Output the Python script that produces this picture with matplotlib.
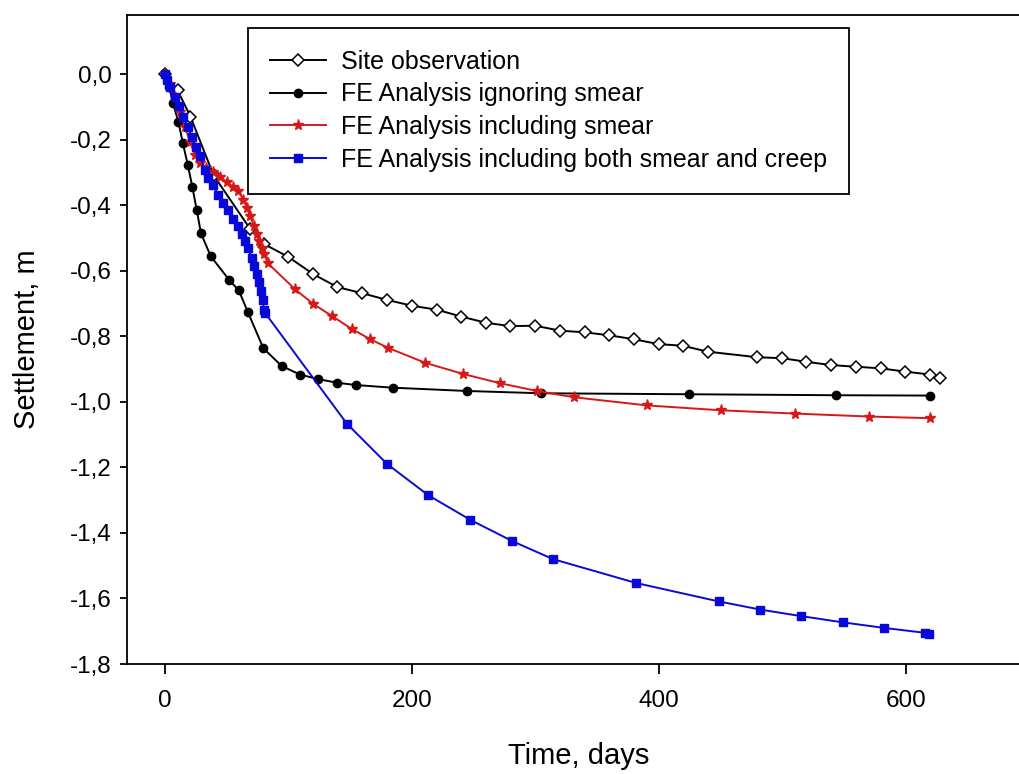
import matplotlib
matplotlib.use('Agg')
import matplotlib.pyplot as plt
from matplotlib.ticker import FuncFormatter

plt.rcParams['font.family'] = ['Liberation Sans', 'DejaVu Sans']

# Site observation
site_days = [0, 10.1, 20.6, 39.3, 68.8, 79.8, 99.8, 120.1, 139.5, 159.8, 179.5,
             199.8, 220.0, 239.7, 259.7, 279.4, 299.6, 319.8, 339.5, 359.3,
             379.2, 399.4, 419.0, 439.1, 479.1, 499.4, 519.0, 539.0, 559.1,
             579.4, 599.2, 619.4, 626.9]
site_settle = [0, -0.049, -0.130, -0.309, -0.472, -0.518, -0.558, -0.611,
               -0.650, -0.669, -0.689, -0.707, -0.719, -0.740, -0.759, -0.769,
               -0.768, -0.783, -0.788, -0.797, -0.809, -0.824, -0.829, -0.847,
               -0.864, -0.867, -0.878, -0.888, -0.893, -0.898, -0.908, -0.917,
               -0.928]

# FE analysis ignoring smear
nosmear_days = [0, 3.5, 6.2, 10.8, 14.3, 18.4, 22.1, 25.7, 29.1, 37.0, 52.1,
                59.7, 67.0, 79.6, 94.5, 109.3, 124.1, 139.5, 154.7, 184.4,
                244.3, 304.2, 423.7, 543.3, 618.9]
nosmear_settle = [0, -0.040, -0.087, -0.145, -0.209, -0.277, -0.344, -0.416,
                  -0.486, -0.556, -0.629, -0.660, -0.726, -0.837, -0.891,
                  -0.917, -0.931, -0.942, -0.949, -0.957, -0.967, -0.974,
                  -0.977, -0.980, -0.981]

# FE analysis including smear
smear_days = [0, 4.0, 8.1, 12.1, 16.2, 20.2, 24.3, 28.3, 33.2, 38.9, 44.5,
              50.0, 55.3, 59.4, 63.4, 66.2, 68.8, 72.1, 74.7, 76.4, 78.3,
              80.2, 83.4, 105.3, 120.1, 135.0, 151.2, 166.0, 180.8, 210.5,
              241.1, 270.7, 301.0, 330.6, 390.0, 450.0, 510.1, 570.0, 618.9]
smear_settle = [0, -0.030, -0.070, -0.116, -0.161, -0.207, -0.246, -0.271,
                -0.286, -0.298, -0.313, -0.330, -0.344, -0.358, -0.383,
                -0.408, -0.434, -0.464, -0.489, -0.510, -0.530, -0.550,
                -0.578, -0.657, -0.702, -0.738, -0.778, -0.809, -0.836,
                -0.881, -0.915, -0.943, -0.967, -0.986, -1.011, -1.026,
                -1.036, -1.045, -1.050]

# FE analysis including both smear and creep
creep_days = [0, 1.4, 4.0, 8.1, 11.3, 14.8, 18.2, 21.6, 25.1, 28.3, 32.4,
              35.1, 38.9, 42.9, 47.0, 51.3, 55.1, 59.4, 62.3, 64.8, 67.4,
              70.2, 72.1, 74.1, 75.7, 77.3, 79.0, 80.2, 81.0, 147.2, 179.8,
              213.0, 247.0, 281.0, 314.0, 381.4, 448.0, 481.8, 515.0, 548.7,
              582.2, 615.4, 618.1]
creep_settle = [0, -0.018, -0.040, -0.069, -0.097, -0.130, -0.161, -0.191,
                -0.222, -0.251, -0.292, -0.316, -0.340, -0.368, -0.392,
                -0.416, -0.441, -0.464, -0.489, -0.508, -0.532, -0.562,
                -0.586, -0.611, -0.635, -0.663, -0.690, -0.720, -0.729,
                -1.067, -1.190, -1.285, -1.360, -1.425, -1.480, -1.553,
                -1.609, -1.634, -1.654, -1.673, -1.690, -1.705, -1.707]

fig = plt.figure(figsize=(10.19, 7.74), dpi=100)
ax = fig.add_axes([0.1246, 0.1421, 0.8862, 0.8385])

ax.plot(site_days, site_settle, color='black', lw=1.4, marker='D', ms=6.3,
        mfc='white', mec='black', mew=1.1, label='Site observation')
ax.plot(nosmear_days, nosmear_settle, color='black', lw=1.4, marker='o',
        ms=6, label='FE Analysis ignoring smear')
ax.plot(smear_days, smear_settle, color='#d81818', lw=1.4, marker='*',
        ms=8, label='FE Analysis including smear')
ax.plot(creep_days, creep_settle, color='#0808d8', lw=1.4, marker='s',
        ms=6.3, label='FE Analysis including both smear and creep')

ax.set_xlim(-30.8, 700)
ax.set_ylim(-1.8, 0.18)
ax.set_xticks([0, 200, 400, 600])
ax.set_yticks([0, -0.2, -0.4, -0.6, -0.8, -1.0, -1.2, -1.4, -1.6, -1.8])


def comma_fmt(v, pos):
    s = f"{v:.1f}".replace('.', ',')
    return '0,0' if s == '-0,0' else s


ax.yaxis.set_major_formatter(FuncFormatter(comma_fmt))
ax.tick_params(axis='both', labelsize=17.5, direction='out', width=1.3)
ax.tick_params(axis='y', length=5, pad=6)
ax.tick_params(axis='x', length=7, pad=12)
for sp in ax.spines.values():
    sp.set_linewidth(1.3)

ax.set_xlabel('Time, days', fontsize=21)
ax.set_ylabel('Settlement, m', fontsize=21)
ax.xaxis.set_label_coords(0.5, -0.12)
ax.yaxis.set_label_coords(-0.095, 0.5)

leg = ax.legend(loc='upper left', bbox_to_anchor=(248 / 1019, 1 - 28 / 774),
                bbox_transform=fig.transFigure, fontsize=18, numpoints=1,
                handlelength=2.24, handletextpad=0.6, labelspacing=0.34,
                borderpad=0.88, borderaxespad=0, fancybox=False,
                framealpha=1)
leg.get_frame().set_edgecolor('black')
leg.get_frame().set_linewidth(1.3)

plt.savefig('out.png', dpi=100)
